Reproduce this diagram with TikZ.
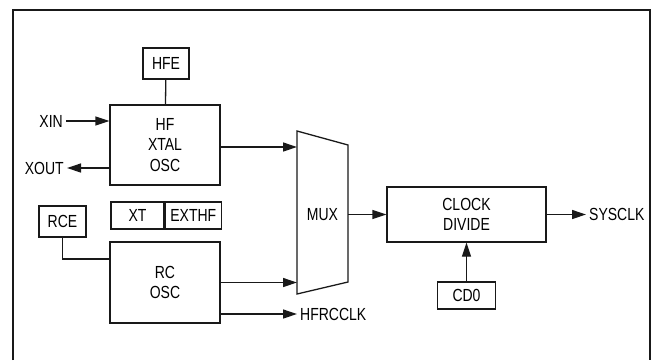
\documentclass[tikz,border=0pt]{standalone}
\usepackage{fontspec}
\setmainfont{Liberation Sans}[FakeStretch=0.8]
\usetikzlibrary{arrows.meta,positioning}
\tikzset{
  blk/.style={
    rectangle,draw=black!90,line width=1.3pt,inner sep=0pt,
    align=center,font=\fontsize{17.5}{20.5}\selectfont
  },
  lbl/.style={inner sep=3pt,font=\fontsize{17.5}{20.5}\selectfont},
  wire/.style={line width=1.3pt,draw=black!90},
  arrow/.style={wire,-{Triangle[length=14pt,width=9pt]}},
  frame/.style={line width=2.4pt,draw=black!90}
}
\begin{document}
\begin{tikzpicture}[x=1pt,y=-1pt]
    \useasboundingbox (0,0) rectangle (654,360);
    \draw[frame] (13,360) -- (13,10) -- (650,10) -- (650,360);

    % oscillators
    \node[blk,minimum width=46pt,minimum height=31pt] (hfe) at (166,63.5) {HFE};
    \node[blk,minimum width=110pt,minimum height=80pt] (xtal) at (165,145)
      {HF\\XTAL\\OSC};
    \node[blk,minimum width=53pt,minimum height=27pt] (xt) at (137.5,215.5) {XT};
    \node[blk,minimum width=56pt,minimum height=27pt,right=0pt of xt] (exthf) {EXTHF};
    \node[blk,minimum width=47pt,minimum height=31pt] (rce) at (62.5,221.5) {RCE};
    \node[blk,minimum width=110pt,minimum height=81pt] (rcosc) at (165,282.5)
      {RC\\OSC};

    % mux
    \coordinate (mux-tl) at (297,131);
    \coordinate (mux-tr) at (348,145);
    \coordinate (mux-br) at (348,282);
    \coordinate (mux-bl) at (297,294);
    \draw[wire,line join=miter] (mux-tl) -- (mux-tr) -- (mux-br) -- (mux-bl) -- cycle;
    \node[lbl] (mux) at (322.5,215) {MUX};

    % divider
    \node[blk,minimum width=159pt,minimum height=55pt] (clkdiv) at (466.5,214.5)
      {CLOCK\\DIVIDE};
    \node[blk,minimum width=58pt,minimum height=27pt] (cd0) at (466.5,295.5) {CD0};

    % pins
    \node[lbl,anchor=east] (xin) at (66,121) {XIN};
    \node[lbl,anchor=east] (xout) at (67,168) {XOUT};
    \node[lbl,anchor=west] (sysclk) at (586,214.5) {SYSCLK};
    \node[lbl,anchor=west] (hfrcclk) at (297,314) {HFRCCLK};

    \draw[wire] (hfe) -- (xtal);
    \draw[arrow] (xin.east) -- (xin.east -| xtal.west);
    \draw[arrow] (xout.east -| xtal.west) -- (xout.east);
    \draw[arrow] ([yshift=-2pt]xtal.east) -- ([yshift=-2pt]xtal.east -| mux-tl);
    \draw[wire] (rce.south) |- ([yshift=23.5pt]rcosc.west);
    \draw[arrow] (rcosc.east) -- (rcosc.east -| mux-tl);
    \draw[arrow] (hfrcclk.west -| rcosc.east) -- (hfrcclk.west);
    \draw[arrow] (clkdiv.west -| mux-tr) -- (clkdiv.west);
    \draw[arrow] (clkdiv.east) -- (sysclk.west);
    \draw[arrow] (cd0) -- (clkdiv);
  \end{tikzpicture}
\end{document}
